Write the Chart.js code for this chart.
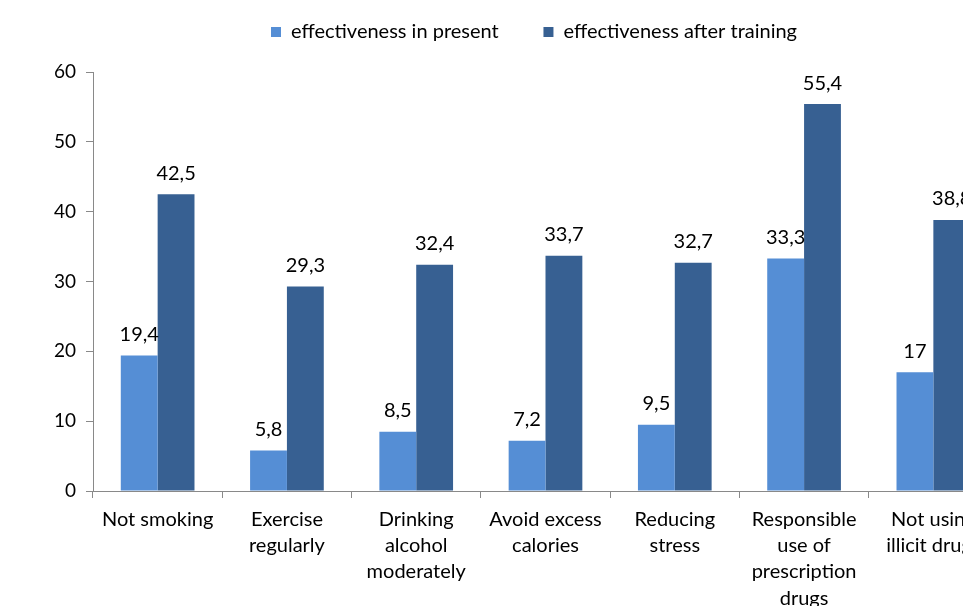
<!DOCTYPE html>
<html lang="en">
<head>
<meta charset="UTF-8">
<title>Effectiveness</title>
<script src="https://cdn.jsdelivr.net/npm/chart.js"></script>
<style>
  html, body { margin: 0; padding: 0; overflow: hidden; background: #fff; }
  #wrap { width: 1068px; height: 640px; }
</style>
</head>
<body>
<div id="wrap"><canvas id="myChart1"></canvas></div>
<script>
    // data
    const categories = [
        ["Not smoking"],
        ["Exercise", "regularly"],
        ["Drinking", "alcohol", "moderately"],
        ["Avoid excess", "calories"],
        ["Reducing", "stress"],
        ["Responsible", "use of", "prescription", "drugs"],
        ["Not using", "illicit drugs"]
    ];
    const present = [19.4, 5.8, 8.5, 7.2, 9.5, 33.3, 17];
    const afterTraining = [42.5, 29.3, 32.4, 33.7, 32.7, 55.4, 38.8];
    const yTicks = [0, 10, 20, 30, 40, 50, 60];

    const font = "Lato, 'Open Sans', sans-serif";
    const axisGray = "#898989";

    // value labels above each bar, comma as decimal mark
    const valueLabels = {
        id: "valueLabels",
        afterDatasetsDraw(chart) {
            const c = chart.ctx;
            c.save();
            c.font = "20px " + font;
            c.fillStyle = "#000";
            c.textAlign = "center";
            c.textBaseline = "middle";
            chart.data.datasets.forEach((ds, i) => {
                chart.getDatasetMeta(i).data.forEach((bar, j) => {
                    const txt = String(ds.data[j]).replace(".", ",");
                    c.fillText(txt, bar.x, bar.y - 21);
                });
            });
            c.restore();
        }
    };

    // extra room between legend and plot
    const legendSpace = {
        id: "legendSpace",
        beforeInit(chart) {
            const fit = chart.legend.fit;
            chart.legend.fit = function () {
                fit.call(this);
                this.height += 20;
            };
        }
    };

    new Chart(document.getElementById("myChart1"), {
        type: "bar",
        data: {
            labels: categories,
            datasets: [
                {
                    label: "effectiveness in present",
                    data: present,
                    backgroundColor: "#558ED5",
                    barPercentage: 1,
                    categoryPercentage: 0.57
                },
                {
                    label: "effectiveness after training",
                    data: afterTraining,
                    backgroundColor: "#376092",
                    barPercentage: 1,
                    categoryPercentage: 0.57
                }
            ]
        },
        options: {
            responsive: true,
            maintainAspectRatio: false,
            animation: false,
            layout: { padding: { top: 8, right: 0, left: 0, bottom: 0 } },
            plugins: {
                tooltip: { enabled: false },
                legend: {
                    position: "top",
                    labels: {
                        font: { family: font, size: 20 },
                        color: "#000",
                        boxWidth: 10,
                        boxHeight: 10,
                        padding: 14,
                        generateLabels(chart) {
                            const items = Chart.defaults.plugins.legend.labels.generateLabels(chart);
                            items[0].text += "      ";
                            return items;
                        }
                    }
                }
            },
            scales: {
                x: {
                    grid: { offset: true, drawOnChartArea: false, drawTicks: true, tickLength: 7, color: axisGray },
                    border: { color: axisGray },
                    ticks: {
                        color: "#000",
                        font: { family: font, size: 20, lineHeight: 1.32 },
                        maxRotation: 0,
                        autoSkip: false,
                        padding: 8
                    },
                    afterFit(scale) { scale.height = 149; }
                },
                y: {
                    min: 0,
                    max: 60,
                    afterBuildTicks(scale) { scale.ticks = yTicks.map(v => ({ value: v })); },
                    grid: { drawOnChartArea: false, drawTicks: true, tickLength: 7, color: axisGray },
                    border: { color: axisGray },
                    ticks: {
                        color: "#000",
                        font: { family: font, size: 19 },
                        padding: 10
                    },
                    afterFit(scale) { scale.width = 93; }
                },
                // empty axis that only keeps room on the right
                yRight: {
                    position: "right",
                    grid: { display: false },
                    border: { display: false },
                    ticks: { display: false },
                    afterFit(scale) { scale.width = 70; }
                }
            }
        },
        plugins: [valueLabels, legendSpace]
    });
</script>
</body>
</html>
